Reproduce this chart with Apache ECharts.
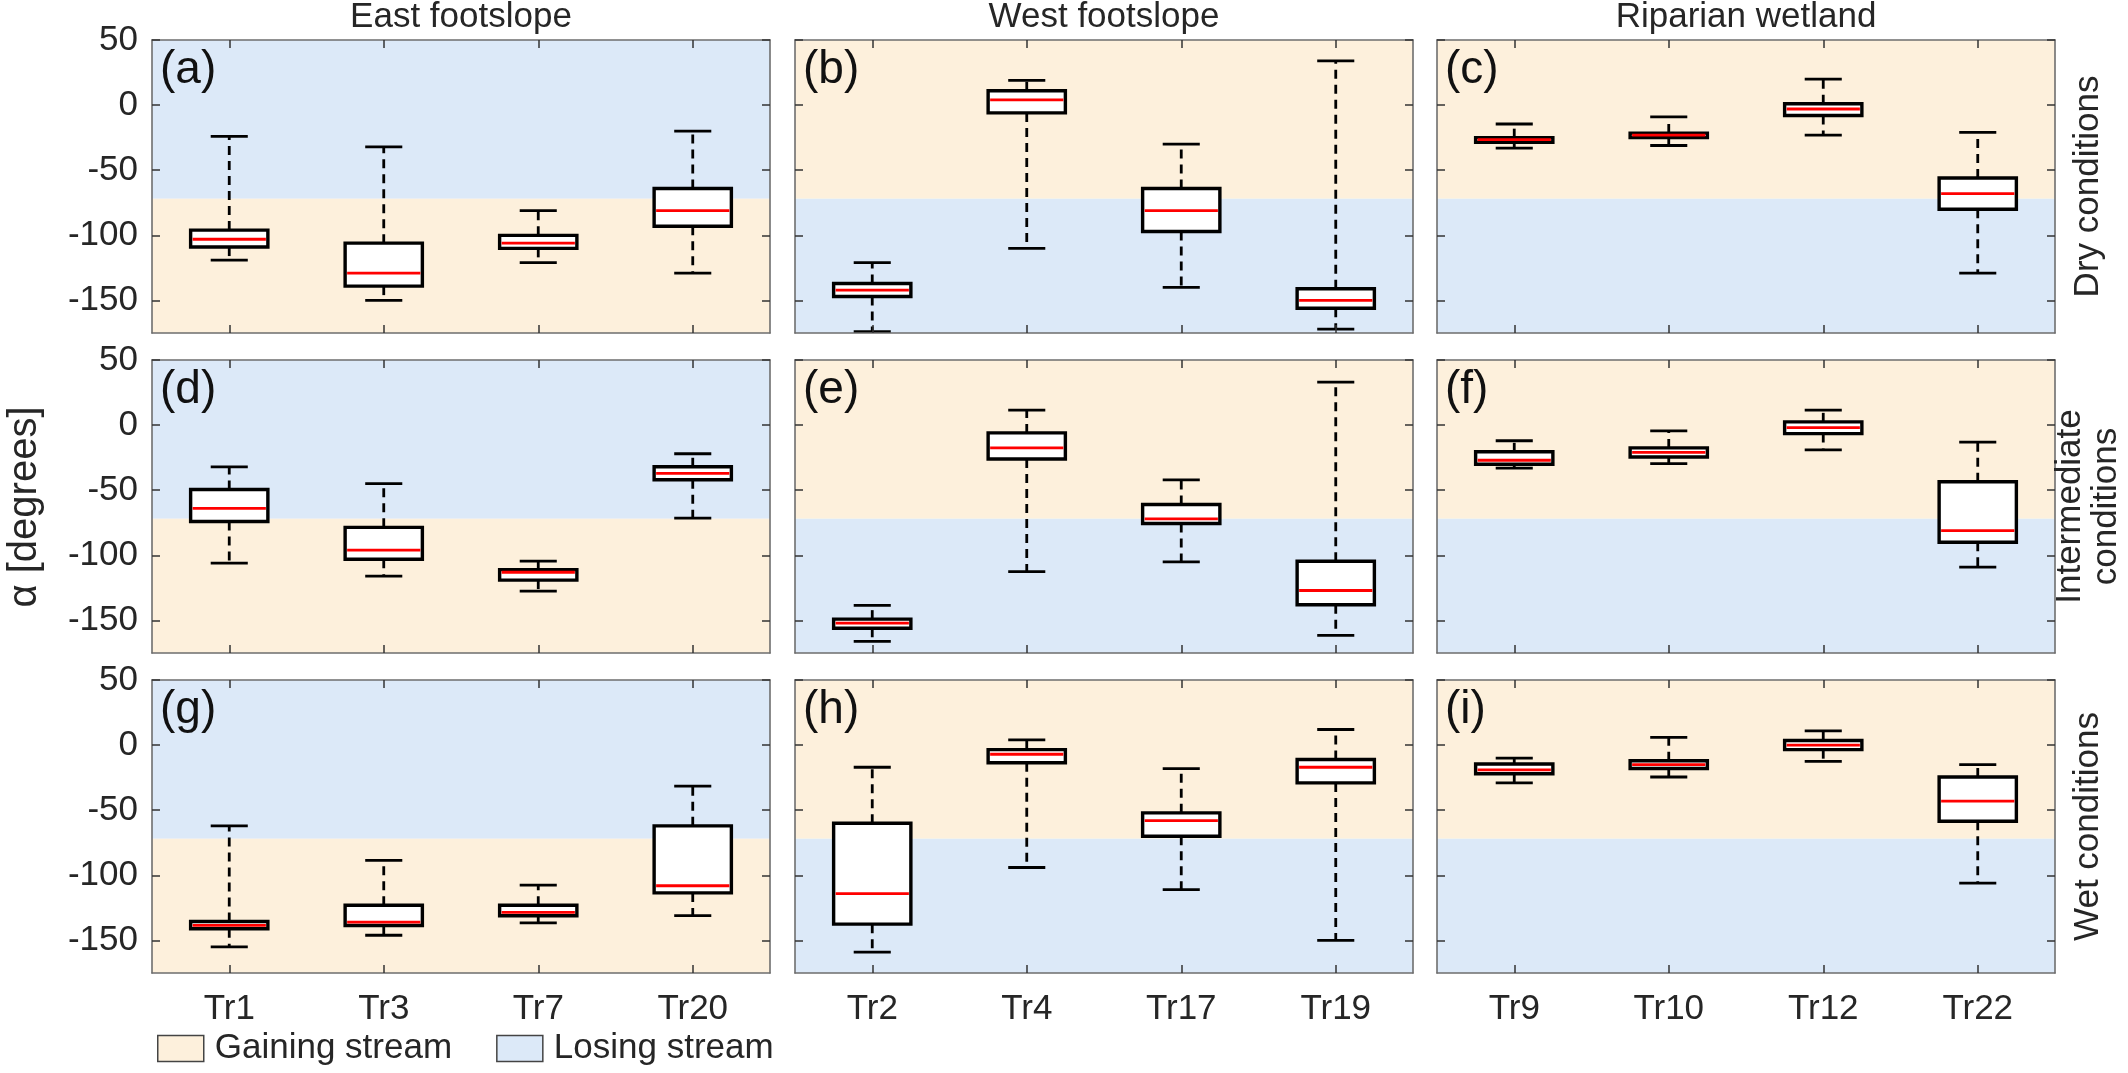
<!DOCTYPE html>
<html>
<head>
<meta charset="utf-8">
<script src="https://cdn.jsdelivr.net/npm/echarts@6/dist/echarts.min.js"></script>
<style>
html,body{margin:0;padding:0;background:#fff;}
#chart{width:2128px;height:1073px;}
</style>
</head>
<body>
<div id="chart"></div>
<script>
// ---------------- data ----------------
const catsEast = ['Tr1', 'Tr3', 'Tr7', 'Tr20'];
const catsWest = ['Tr2', 'Tr4', 'Tr17', 'Tr19'];
const catsRiparian = ['Tr9', 'Tr10', 'Tr12', 'Tr22'];
const columnTitles = ['East footslope', 'West footslope', 'Riparian wetland'];
const rowTitles = ['Dry conditions', 'Intermediate\nconditions', 'Wet conditions'];
const panelLetters = ['(a)', '(b)', '(c)', '(d)', '(e)', '(f)', '(g)', '(h)', '(i)'];
const yTicks = [-150, -100, -50, 0, 50];
const yMin = -175;
const yMax = 50;
const threshold = -72;
const legendNames = ['Gaining stream', 'Losing stream'];

// box statistics: [lower whisker, Q1, median, Q3, upper whisker]
const eastDry = [[-119, -109, -103, -96, -24], [-150, -139, -129, -106, -32], [-121, -110, -106, -100, -81], [-129, -93, -81, -64, -20]];
const westDry = [[-174, -147, -142, -137, -121], [-110, -6, 4, 11, 19], [-140, -97, -81, -64, -30], [-172, -156, -150, -141, 34]];
const ripDry = [[-33, -28.5, -26.5, -25, -14.5], [-31, -25, -23, -21.5, -9], [-23, -8, -3, 1, 20], [-129, -80, -68, -56, -21]];
const eastInt = [[-106, -74, -64, -49.5, -32], [-116, -103, -96, -78.5, -45], [-127.5, -119, -113, -111, -104.5], [-71.5, -42, -37, -32, -22]];
const westInt = [[-166, -156, -152, -149, -138.5], [-112.5, -26, -17.5, -6, 11.5], [-105, -75.5, -72, -61, -42], [-161.5, -138, -127, -104.5, 33]];
const ripInt = [[-33, -30, -27, -20.5, -12], [-29.5, -24.5, -21, -17.5, -4.5], [-19, -6.5, -2, 2.5, 11.5], [-109, -90, -81, -43.5, -13]];
const eastWet = [[-155, -141, -138.5, -135.5, -62], [-146, -138.5, -136, -123, -88.5], [-136.5, -131, -128.5, -123, -107.5], [-131, -113.5, -108, -62, -31.5]];
const westWet = [[-159, -137.5, -114, -60, -17], [-94, -13.5, -7, -3.5, 4], [-111, -70, -58, -52, -18], [-150, -29, -17, -11, 12]];
const ripWet = [[-29, -22, -19, -14.5, -10], [-24.5, -18, -15, -12, 6], [-12.5, -3.5, 0, 3.5, 11], [-106, -58.5, -43, -24.5, -15]];

// ---------------- layout / style ----------------
const panels = [
  [eastDry, westDry, ripDry],
  [eastInt, westInt, ripInt],
  [eastWet, westWet, ripWet]
];
const colCats = [catsEast, catsWest, catsRiparian];
const colLeft = [152, 795, 1437];
const rowTop = [40, 360, 680];
const pw = 618, ph = 293;
const GAIN = '#fdf0dc';
const LOSE = '#dce9f8';
const FONT = 'Liberation Sans, Arial, sans-serif';
const TXT = '#262626';
const AXC = '#6e6e6e';
const FS = 35;

const grids = [], xAxes = [], yAxes = [], series = [], graphics = [];

function renderBox(params, api) {
  const x = api.value(0);
  const lo = api.coord([x, api.value(1)]);
  const q1 = api.coord([x, api.value(2)]);
  const md = api.coord([x, api.value(3)]);
  const q3 = api.coord([x, api.value(4)]);
  const hi = api.coord([x, api.value(5)]);
  const band = api.size([1, 0])[0];
  const bw = band * 0.5, cw = band * 0.24;
  const cx = md[0];
  const wStyle = { stroke: '#000', lineWidth: 2.8, lineDash: [9, 6] };
  const cStyle = { stroke: '#000', lineWidth: 2.8 };
  return {
    type: 'group',
    children: [
      { type: 'line', shape: { x1: cx, y1: q3[1], x2: cx, y2: hi[1] }, style: wStyle },
      { type: 'line', shape: { x1: cx, y1: q1[1], x2: cx, y2: lo[1] }, style: wStyle },
      { type: 'line', shape: { x1: cx - cw / 2, y1: hi[1], x2: cx + cw / 2, y2: hi[1] }, style: cStyle },
      { type: 'line', shape: { x1: cx - cw / 2, y1: lo[1], x2: cx + cw / 2, y2: lo[1] }, style: cStyle },
      { type: 'rect', shape: { x: cx - bw / 2, y: q3[1], width: bw, height: q1[1] - q3[1] }, style: { fill: '#fff', stroke: '#000', lineWidth: 3.4 } },
      { type: 'line', shape: { x1: cx - bw / 2 + 2, y1: md[1], x2: cx + bw / 2 - 2, y2: md[1] }, style: { stroke: '#ff0000', lineWidth: 2.8 } }
    ]
  };
}

let gi = 0;
for (let r = 0; r < 3; r++) {
  for (let c = 0; c < 3; c++) {
    grids.push({ left: colLeft[c], top: rowTop[r], width: pw, height: ph });
    const tickStyle = { show: true, inside: true, length: 8, lineStyle: { color: '#333', width: 1.5 } };
    const lineStyle = { show: true, onZero: false, lineStyle: { color: AXC, width: 1.6 } };
    xAxes.push({
      type: 'category', gridIndex: gi, position: 'bottom', data: colCats[c], z: 10,
      axisLine: lineStyle, axisTick: Object.assign({ alignWithLabel: true }, tickStyle),
      axisLabel: { show: r === 2, color: TXT, fontSize: FS, fontFamily: FONT, margin: 19 },
      splitLine: { show: false }
    });
    xAxes.push({
      type: 'category', gridIndex: gi, position: 'top', data: colCats[c], z: 10,
      axisLine: lineStyle, axisTick: Object.assign({ alignWithLabel: true }, tickStyle),
      axisLabel: { show: false }, splitLine: { show: false }
    });
    yAxes.push({
      type: 'value', gridIndex: gi, position: 'left', min: yMin, max: yMax, z: 10,
      axisLine: lineStyle,
      axisTick: Object.assign({ customValues: yTicks }, tickStyle),
      axisLabel: { show: c === 0, customValues: yTicks, color: TXT, fontSize: FS, fontFamily: FONT, margin: 14 },
      splitLine: { show: false }
    });
    yAxes.push({
      type: 'value', gridIndex: gi, position: 'right', min: yMin, max: yMax, z: 10,
      axisLine: lineStyle,
      axisTick: Object.assign({ customValues: yTicks }, tickStyle),
      axisLabel: { show: false, customValues: yTicks }, splitLine: { show: false }
    });
    const upper = c === 0 ? LOSE : GAIN;
    const lower = c === 0 ? GAIN : LOSE;
    const stats = panels[r][c];
    series.push({
      type: 'custom', xAxisIndex: 2 * gi, yAxisIndex: 2 * gi, z: 2,
      renderItem: renderBox,
      encode: { x: 0, y: [1, 2, 3, 4, 5] },
      data: stats.map((s, i) => [i].concat(s)),
      silent: true,
      markArea: {
        silent: true,
        data: [
          [{ yAxis: yMax, itemStyle: { color: upper } }, { yAxis: threshold }],
          [{ yAxis: threshold, itemStyle: { color: lower } }, { yAxis: yMin }]
        ]
      }
    });
    graphics.push({
      type: 'text', left: colLeft[c] + 8, top: rowTop[r] + 7, z: 20,
      style: { text: panelLetters[gi], fontSize: 46, fontFamily: FONT, fill: '#111' }
    });
    gi++;
  }
}

// legend dummy series
series.push({ type: 'bar', name: legendNames[0], xAxisIndex: 0, yAxisIndex: 0, data: [], itemStyle: { color: GAIN } });
series.push({ type: 'bar', name: legendNames[1], xAxisIndex: 0, yAxisIndex: 0, data: [], itemStyle: { color: LOSE } });

for (let c = 0; c < 3; c++) {
  graphics.push({
    type: 'text', x: colLeft[c] + pw / 2, y: 17, z: 20,
    style: { text: columnTitles[c], fontSize: FS, fontFamily: FONT, fill: TXT, align: 'center', verticalAlign: 'middle' }
  });
}
for (let r = 0; r < 3; r++) {
  graphics.push({
    type: 'text', x: 2088, y: rowTop[r] + ph / 2, rotation: Math.PI / 2, z: 20,
    style: { text: rowTitles[r], fontSize: FS, lineHeight: 36, fontFamily: FONT, fill: TXT, align: 'center', verticalAlign: 'middle' }
  });
}
graphics.push({
  type: 'text', x: 25, y: 507, rotation: Math.PI / 2, z: 20,
  style: { text: 'α [degrees]', fontSize: 40, fontFamily: FONT, fill: TXT, align: 'center', verticalAlign: 'middle' }
});

const chart = echarts.init(document.getElementById('chart'), null, { renderer: 'canvas' });
chart.setOption({
  animation: false,
  backgroundColor: '#fff',
  grid: grids,
  xAxis: xAxes,
  yAxis: yAxes,
  legend: {
    data: legendNames, left: 152, top: 1026, icon: 'rect', itemWidth: 46, itemHeight: 26, itemGap: 44,
    itemStyle: { borderColor: '#444', borderWidth: 1.5 },
    textStyle: { fontSize: FS, fontFamily: FONT, color: TXT, padding: [0, 0, 0, 6] },
    selectedMode: false
  },
  series: series,
  graphic: graphics
});
</script>
</body>
</html>
